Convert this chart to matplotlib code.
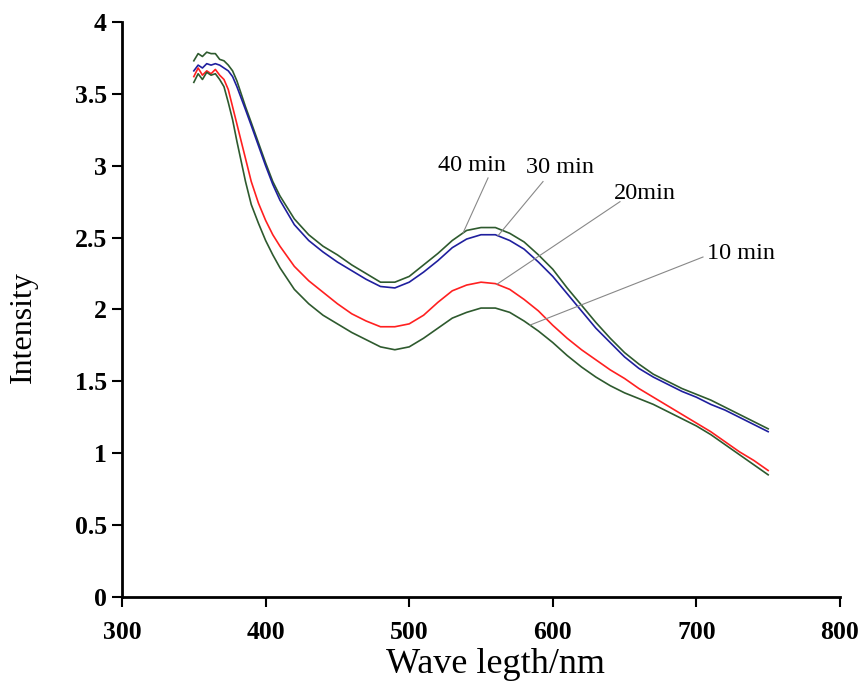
import numpy as np
import matplotlib
matplotlib.use("Agg")
import matplotlib.pyplot as plt

plt.rcParams["font.family"] = ["Liberation Serif", "DejaVu Serif"]

# wavelength grid (nm)
wl = [350, 353, 356, 359, 362, 365, 368, 371, 374, 377, 380, 383, 386, 390, 395,
      400, 405, 410, 420, 430, 440, 450, 460, 470, 480, 490, 500, 510, 520, 530,
      540, 550, 560, 570, 580, 590, 600, 610, 620, 630, 640, 650, 660, 670, 680,
      690, 700, 710, 720, 730, 740, 750]

# intensity
i40 = [3.73, 3.78, 3.76, 3.79, 3.78, 3.78, 3.74, 3.73, 3.70, 3.66, 3.59, 3.50, 3.41, 3.30, 3.16,
       3.02, 2.89, 2.79, 2.63, 2.52, 2.44, 2.38, 2.31, 2.25, 2.19, 2.19, 2.23, 2.31, 2.39, 2.48,
       2.55, 2.57, 2.57, 2.53, 2.47, 2.38, 2.28, 2.15, 2.03, 1.91, 1.80, 1.70, 1.62, 1.55, 1.50,
       1.45, 1.41, 1.37, 1.32, 1.27, 1.22, 1.17]
i30 = [3.66, 3.70, 3.68, 3.71, 3.70, 3.71, 3.70, 3.68, 3.66, 3.62, 3.55, 3.47, 3.39, 3.28, 3.14,
       3.00, 2.87, 2.76, 2.59, 2.48, 2.40, 2.33, 2.27, 2.21, 2.16, 2.15, 2.19, 2.26, 2.34, 2.43,
       2.49, 2.52, 2.52, 2.48, 2.42, 2.33, 2.23, 2.11, 1.99, 1.87, 1.77, 1.67, 1.59, 1.53, 1.48,
       1.43, 1.39, 1.34, 1.30, 1.25, 1.20, 1.15]
i20 = [3.62, 3.68, 3.63, 3.66, 3.64, 3.67, 3.63, 3.60, 3.53, 3.41, 3.29, 3.17, 3.05, 2.89, 2.74,
       2.62, 2.52, 2.44, 2.30, 2.20, 2.12, 2.04, 1.97, 1.92, 1.88, 1.88, 1.90, 1.96, 2.05, 2.13,
       2.17, 2.19, 2.18, 2.14, 2.07, 1.99, 1.89, 1.80, 1.72, 1.65, 1.58, 1.52, 1.45, 1.39, 1.33,
       1.27, 1.21, 1.15, 1.08, 1.01, 0.95, 0.88]
i10 = [3.58, 3.64, 3.60, 3.65, 3.63, 3.64, 3.60, 3.55, 3.44, 3.32, 3.17, 3.03, 2.89, 2.73, 2.60,
       2.48, 2.38, 2.29, 2.14, 2.04, 1.96, 1.90, 1.84, 1.79, 1.74, 1.72, 1.74, 1.80, 1.87, 1.94,
       1.98, 2.01, 2.01, 1.98, 1.92, 1.85, 1.77, 1.68, 1.60, 1.53, 1.47, 1.42, 1.38, 1.34, 1.29,
       1.24, 1.19, 1.13, 1.06, 0.99, 0.92, 0.85]

green = "#2e5a2e"
series = [("40 min", i40, green), ("30 min", i30, "#1f1f9e"),
          ("20min", i20, "#ff2020"), ("10 min", i10, green)]

fig = plt.figure(figsize=(8.63, 6.87), dpi=100)
ax = fig.add_axes([0.1414, 0.131, 0.8319, 0.837])

for name, vals, col in series:
    ax.plot(wl, vals, color=col, lw=1.2)

# labels with leader lines: (text pos, line start, wavelength on curve)
labels = [
    ("40 min", i40, (543.7, 3.00), (554.9, 2.915), 537.5),
    ("30 min", i30, (605.0, 2.99), (593.2, 2.89), 561.8),
    ("20min", i20, (664.2, 2.81), (646.8, 2.75), 561.1),
    ("10 min", i10, (731.0, 2.39), (704.6, 2.365), 584.1),
]
for txt, vals, tpos, lstart, lw_at in labels:
    yc = np.interp(lw_at, wl, vals)
    ax.plot([lstart[0], lw_at], [lstart[1], yc], color="#888888", lw=0.8)
    ax.text(tpos[0], tpos[1], txt, ha="center", va="center", fontsize=17.5)

ax.set_xlim(300, 800)
ax.set_ylim(0, 4)
ax.set_xticks([300, 400, 500, 600, 700, 800])
ax.set_yticks([0, 0.5, 1, 1.5, 2, 2.5, 3, 3.5, 4])
ax.set_yticklabels(["0", "0.5", "1", "1.5", "2", "2.5", "3", "3.5", "4"])
for lab in ax.get_xticklabels() + ax.get_yticklabels():
    lab.set_fontweight("bold")
    lab.set_fontsize(18.5)
ax.tick_params(direction="out", length=7, width=1.5)
ax.tick_params(axis="y", pad=4)
ax.tick_params(axis="x", pad=10)
ax.spines["top"].set_visible(False)
ax.spines["right"].set_visible(False)
ax.spines["left"].set_linewidth(2)
ax.spines["bottom"].set_linewidth(2)

ax.set_xlabel("Wave legth/nm", fontsize=26)
ax.set_ylabel("Intensity", fontsize=23)
ax.xaxis.set_label_coords(0.52, -0.088)
ax.yaxis.set_label_coords(-0.117, 0.47)

fig.savefig("out.png", dpi=100)
